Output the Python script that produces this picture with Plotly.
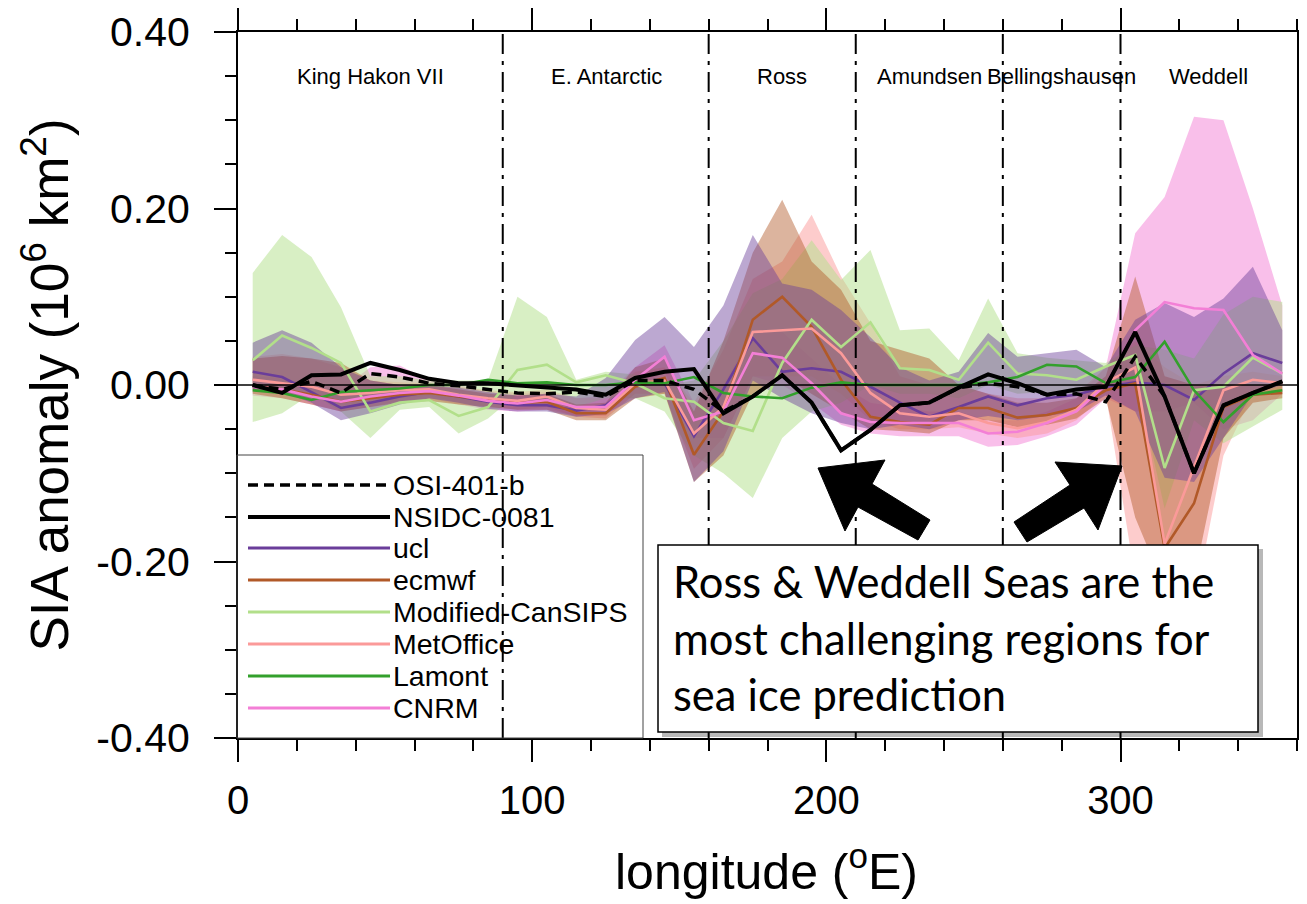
import plotly.graph_objects as go

# ---------------- data ----------------
LON = [5, 15, 25, 35, 45, 55, 65, 75, 85, 95, 105, 115, 125, 135, 145, 155, 165, 175,
       185, 195, 205, 215, 225, 235, 245, 255, 265, 275, 285, 295, 305, 315, 325, 335, 345, 355]

OSI = [0.000, -0.005, 0.004, -0.009, 0.013, 0.009, 0.002, -0.001, -0.005, -0.009, -0.010, -0.008,
       -0.013, 0.005, 0.005, -0.005, -0.030, -0.013, 0.011, -0.020, -0.074, -0.051, -0.023, -0.020,
       -0.003, 0.002, -0.002, -0.011, -0.010, -0.019, 0.032, -0.013, -0.100, -0.023, -0.009, 0.004]
NSIDC = [0.000, -0.009, 0.011, 0.012, 0.025, 0.017, 0.007, 0.002, 0.002, 0.000, -0.002, -0.005,
         -0.011, 0.008, 0.015, 0.018, -0.032, -0.013, 0.011, -0.020, -0.074, -0.051, -0.023, -0.020,
         -0.003, 0.012, 0.002, -0.011, -0.005, -0.002, 0.060, -0.013, -0.100, -0.023, -0.009, 0.004]
UCL = [0.015, 0.009, -0.008, -0.026, -0.020, -0.013, -0.008, -0.013, -0.019, -0.023, -0.023, -0.029,
       -0.023, 0.003, 0.002, -0.058, -0.005, 0.053, 0.015, 0.019, 0.015, -0.002, -0.020, -0.036,
       -0.025, -0.013, -0.023, -0.015, -0.011, -0.002, 0.003, 0.000, -0.017, 0.013, 0.036, 0.025]
ECMWF = [-0.001, -0.005, -0.011, -0.019, -0.015, -0.011, -0.009, -0.013, -0.017, -0.020, -0.019, -0.032,
         -0.032, -0.002, 0.008, -0.079, -0.030, 0.074, 0.100, 0.066, 0.006, -0.036, -0.042, -0.045,
         -0.026, -0.026, -0.037, -0.034, -0.026, -0.006, 0.002, -0.185, -0.134, -0.025, -0.011, -0.009]
CANSIPS = [0.028, 0.056, 0.042, 0.025, -0.030, -0.020, -0.017, -0.035, -0.025, 0.017, 0.023, 0.003,
           0.011, 0.002, -0.015, -0.019, -0.043, -0.052, 0.025, 0.074, 0.043, 0.071, 0.019, 0.017,
           0.006, 0.048, 0.013, 0.011, 0.006, 0.021, 0.034, -0.094, -0.006, -0.002, 0.031, 0.013]
METOFFICE = [0.006, 0.002, -0.002, -0.011, -0.009, -0.006, -0.005, -0.011, -0.015, -0.018, -0.013, -0.026,
             -0.028, 0.002, 0.005, -0.055, -0.025, 0.060, 0.062, 0.064, 0.036, -0.009, -0.032, -0.036,
             -0.032, -0.043, -0.049, -0.042, -0.028, 0.003, 0.020, -0.180, -0.093, -0.006, 0.006, 0.002]
LAMONT = [-0.006, -0.009, -0.017, -0.008, -0.006, -0.004, 0.000, 0.000, 0.006, 0.002, 0.003, 0.000,
          0.000, 0.003, 0.002, 0.009, -0.009, -0.013, -0.015, -0.003, 0.003, 0.000, 0.000, 0.000,
          0.000, 0.003, 0.009, 0.023, 0.021, 0.002, 0.009, 0.049, -0.006, -0.042, -0.011, -0.006]
CNRM = [-0.002, -0.005, -0.013, -0.019, -0.013, -0.009, -0.007, -0.012, -0.018, -0.021, -0.017, -0.025,
        -0.025, 0.006, 0.032, -0.040, -0.030, 0.036, 0.031, 0.002, -0.032, -0.042, -0.043, -0.043,
        -0.043, -0.055, -0.053, -0.043, -0.030, 0.000, 0.062, 0.094, 0.087, 0.085, 0.034, 0.013]

# ensemble spread (upper / lower)
UCL_HI = [0.048, 0.062, 0.048, 0.020, 0.005, 0.000, 0.000, -0.003, -0.008, -0.012, -0.010, -0.013,
          0.008, 0.051, 0.077, 0.043, 0.090, 0.170, 0.115, 0.108, 0.085, 0.054, 0.020, 0.005,
          0.015, 0.059, 0.032, 0.036, 0.040, 0.020, 0.074, 0.093, 0.077, 0.098, 0.134, 0.062]
UCL_LO = [-0.005, -0.008, -0.020, -0.040, -0.032, -0.022, -0.015, -0.020, -0.027, -0.030, -0.030, -0.036,
          -0.033, -0.015, -0.008, -0.110, -0.075, 0.005, -0.015, -0.032, -0.043, -0.050, -0.045, -0.050,
          -0.040, -0.035, -0.040, -0.035, -0.030, -0.012, -0.030, -0.105, -0.110, -0.060, -0.010, 0.000]
ECMWF_HI = [0.030, 0.033, 0.030, 0.025, 0.005, 0.000, 0.000, -0.005, -0.010, -0.012, -0.010, -0.022,
            -0.020, 0.020, 0.030, -0.030, 0.050, 0.150, 0.210, 0.140, 0.108, 0.050, 0.040, 0.030,
            0.000, -0.010, -0.020, -0.020, -0.015, 0.010, 0.123, 0.010, 0.000, 0.000, 0.000, 0.000]
ECMWF_LO = [-0.010, -0.015, -0.022, -0.030, -0.025, -0.020, -0.018, -0.022, -0.025, -0.028, -0.028, -0.040,
            -0.040, -0.015, -0.010, -0.110, -0.080, -0.010, 0.010, -0.010, -0.030, -0.050, -0.052, -0.055,
            -0.040, -0.040, -0.048, -0.045, -0.038, -0.015, -0.150, -0.230, -0.220, -0.060, -0.020, -0.015]
CANSIPS_HI = [0.127, 0.170, 0.145, 0.088, 0.010, 0.010, 0.005, 0.005, 0.005, 0.100, 0.077, 0.006,
              0.015, 0.012, 0.000, 0.005, 0.050, 0.104, 0.120, 0.164, 0.119, 0.153, 0.062, 0.064,
              0.028, 0.098, 0.036, 0.031, 0.028, 0.025, 0.045, 0.040, 0.030, 0.080, 0.100, 0.094]
CANSIPS_LO = [-0.042, -0.032, -0.010, -0.030, -0.060, -0.028, -0.025, -0.055, -0.038, -0.010, -0.020, -0.025,
              -0.015, -0.015, -0.030, -0.080, -0.100, -0.128, -0.060, -0.030, -0.020, 0.000, -0.010, -0.010,
              -0.015, 0.000, -0.010, -0.008, -0.010, 0.000, 0.010, -0.140, -0.040, -0.066, -0.047, -0.028]
METOFFICE_HI = [0.032, 0.035, 0.030, 0.020, 0.005, 0.003, 0.002, -0.002, -0.006, -0.008, -0.005, -0.015,
                -0.015, 0.015, 0.020, -0.020, 0.040, 0.120, 0.140, 0.193, 0.123, 0.070, 0.010, 0.000,
                0.000, -0.010, -0.015, -0.015, -0.010, 0.020, 0.050, 0.020, 0.000, 0.010, 0.015, 0.010]
METOFFICE_LO = [-0.005, -0.008, -0.012, -0.022, -0.020, -0.015, -0.012, -0.020, -0.024, -0.028, -0.025, -0.036,
                -0.038, -0.010, -0.010, -0.095, -0.060, 0.010, 0.010, 0.010, -0.010, -0.040, -0.050, -0.050,
                -0.048, -0.055, -0.060, -0.055, -0.040, -0.010, -0.220, -0.270, -0.250, -0.080, -0.010, -0.008]
CNRM_HI = [0.010, 0.008, 0.000, -0.005, 0.020, 0.022, 0.005, 0.000, -0.008, -0.010, -0.008, -0.015,
           -0.012, 0.020, 0.045, -0.020, 0.000, 0.060, 0.060, 0.030, 0.000, -0.020, -0.025, -0.030,
           -0.030, -0.040, -0.040, -0.030, -0.015, 0.020, 0.172, 0.213, 0.304, 0.300, 0.200, 0.090]
CNRM_LO = [-0.012, -0.015, -0.022, -0.030, -0.025, -0.018, -0.015, -0.022, -0.028, -0.030, -0.028, -0.035,
           -0.035, -0.005, 0.015, -0.060, -0.060, 0.010, 0.000, -0.020, -0.045, -0.055, -0.058, -0.058,
           -0.058, -0.070, -0.068, -0.058, -0.045, -0.015, -0.030, -0.030, -0.020, -0.050, -0.040, -0.010]

REGION_BOUNDS = [90, 160, 210, 260, 300]
REGION_NAMES = ["King Hakon VII", "E. Antarctic", "Ross", "Amundsen", "Bellingshausen", "Weddell"]
REGION_LABEL_X = [45.2, 125.1, 184.9, 235.2, 280.1, 330.0]

Y_TICKS = [-0.4, -0.2, 0.0, 0.2, 0.4]
Y_TICKTEXT = ["-0.40", "-0.20", "0.00", "0.20", "0.40"]
X_TICKS = [0, 100, 200, 300]

# ---------------- styling ----------------
FONT = "Liberation Sans, Arial, sans-serif"
COL = {
    "ucl": "#6a3d9a",
    "ecmwf": "#b15928",
    "Modified-CanSIPS": "#b2df8a",
    "MetOffice": "#fb9a99",
    "Lamont": "#33a02c",
    "CNRM": "#f37fd6",
}


def rgba(hexc, a):
    h = hexc.lstrip("#")
    return "rgba(%d,%d,%d,%.2f)" % (int(h[0:2], 16), int(h[2:4], 16), int(h[4:6], 16), a)


# the page body has an 8px margin, so the figure starts at (8, 8) on screen
OFF = 8
FIG_W, FIG_H = 1307 - OFF, 904 - OFF
# plot area in screen pixels
L, R, T, B = 238, 1297, 32, 738


def px(xp):
    return (xp - L) / (R - L)


def py(yp):
    return (B - yp) / (B - T)


fig = go.Figure()

bands = [
    ("CNRM", CNRM_HI, CNRM_LO, 0.50),
    ("MetOffice", METOFFICE_HI, METOFFICE_LO, 0.50),
    ("Modified-CanSIPS", CANSIPS_HI, CANSIPS_LO, 0.50),
    ("ecmwf", ECMWF_HI, ECMWF_LO, 0.45),
    ("ucl", UCL_HI, UCL_LO, 0.45),
]
for name, hi, lo, a in bands:
    fig.add_trace(go.Scatter(
        x=LON + LON[::-1], y=hi + lo[::-1], fill="toself",
        fillcolor=rgba(COL[name], a), line=dict(width=0), mode="lines",
        hoverinfo="skip", showlegend=False))

model_lines = [
    ("ucl", UCL), ("ecmwf", ECMWF), ("Modified-CanSIPS", CANSIPS),
    ("MetOffice", METOFFICE), ("Lamont", LAMONT), ("CNRM", CNRM),
]
for name, vals in model_lines:
    fig.add_trace(go.Scatter(x=LON, y=vals, mode="lines", name=name,
                             line=dict(color=COL[name], width=2.6), showlegend=False))

fig.add_trace(go.Scatter(x=LON, y=OSI, mode="lines", name="OSI-401-b",
                         line=dict(color="black", width=3.5, dash="10px,6px"), showlegend=False))
fig.add_trace(go.Scatter(x=LON, y=NSIDC, mode="lines", name="NSIDC-0081",
                         line=dict(color="black", width=4), showlegend=False))

shapes = []
# zero line
shapes.append(dict(type="line", xref="paper", yref="y", x0=0, x1=1, y0=0, y1=0,
                   line=dict(color="black", width=1.5), layer="above"))
# region boundaries
for xb in REGION_BOUNDS:
    shapes.append(dict(type="line", xref="x", yref="paper", x0=xb, x1=xb, y0=0, y1=1,
                       line=dict(color="black", width=2, dash="20px,7px,4px,7px"), layer="above"))

# legend box
shapes.append(dict(type="rect", xref="paper", yref="paper", x0=px(237), x1=px(643),
                   y0=py(738), y1=py(455), line=dict(color="#444", width=1), layer="above"))
legend_items = [
    ("OSI-401-b", "black", 3.5, "10px,6px"),
    ("NSIDC-0081", "black", 4, "solid"),
    ("ucl", COL["ucl"], 3, "solid"),
    ("ecmwf", COL["ecmwf"], 3, "solid"),
    ("Modified-CanSIPS", COL["Modified-CanSIPS"], 3, "solid"),
    ("MetOffice", COL["MetOffice"], 3, "solid"),
    ("Lamont", COL["Lamont"], 3, "solid"),
    ("CNRM", COL["CNRM"], 3, "solid"),
]
leg_y = [485, 517, 548, 580, 612, 644, 676, 708]
annotations = []
for (lab, c, w, d), yy in zip(legend_items, leg_y):
    shapes.append(dict(type="line", xref="paper", yref="paper", x0=px(248), x1=px(390),
                       y0=py(yy), y1=py(yy), line=dict(color=c, width=w, dash=d), layer="above"))
    annotations.append(dict(xref="paper", yref="paper", x=px(391), y=py(yy), text=lab,
                            showarrow=False, xanchor="left", yanchor="middle",
                            font=dict(family=FONT, size=28.5, color="black")))

# arrows (black polygons)
arrow1 = [(818, 468), (885, 460), (872, 484), (930, 520), (918, 540), (858, 507), (845, 531)]
arrow2 = [(1122, 466), (1098, 530), (1084, 508), (1027, 542), (1014, 522), (1070, 485), (1055, 462)]
for poly in (arrow1, arrow2):
    path = "M " + " L ".join("%.5f,%.5f" % (px(a), py(b)) for a, b in poly) + " Z"
    shapes.append(dict(type="path", xref="paper", yref="paper", path=path,
                       fillcolor="black", line=dict(color="black", width=1), layer="above"))

# text box with shadow
shapes.append(dict(type="rect", xref="paper", yref="paper", x0=px(662), x1=px(1263),
                   y0=py(737), y1=py(549), fillcolor="rgba(0,0,0,0.28)",
                   line=dict(width=0), layer="above"))
shapes.append(dict(type="rect", xref="paper", yref="paper", x0=px(658), x1=px(1258),
                   y0=py(732), y1=py(545), fillcolor="white",
                   line=dict(color="black", width=1.5), layer="above"))
annotations.append(dict(xref="paper", yref="paper", x=px(671), y=py(553),
                        text="Ross & Weddell Seas are the<br>most challenging regions for<br>sea ice prediction",
                        showarrow=False, xanchor="left", yanchor="top", align="left",
                        font=dict(family="Lato, Carlito, sans-serif", size=43.5, color="black")))

# region labels
for name, xl in zip(REGION_NAMES, REGION_LABEL_X):
    annotations.append(dict(xref="x", yref="paper", x=xl, y=py(77), text=name,
                            showarrow=False, xanchor="center", yanchor="middle",
                            font=dict(family=FONT, size=22, color="black")))

# x axis title (placed as annotation so it can sit lower than plotly's margin limit)
annotations.append(dict(xref="paper", yref="paper", x=px(766), y=py(868),
                        text="longitude (<sup>o</sup>E)", showarrow=False,
                        xanchor="center", yanchor="middle",
                        font=dict(family=FONT, size=50, color="black")))

fig.update_layout(
    width=FIG_W, height=FIG_H,
    margin=dict(l=L - OFF, r=FIG_W - (R - OFF), t=T - OFF, b=FIG_H - (B - OFF)),
    plot_bgcolor="white", paper_bgcolor="white",
    showlegend=False,
    shapes=shapes, annotations=annotations,
    font=dict(family=FONT, color="black"),
)
fig.update_xaxes(
    range=[0, 360], tickvals=X_TICKS, ticks="outside", ticklen=22, tickwidth=2,
    tickcolor="black", showline=True, linewidth=2, linecolor="black", mirror="allticks",
    showgrid=False, zeroline=False, tickfont=dict(family=FONT, size=40),
    ticklabelstandoff=4, automargin=False,
    minor=dict(dtick=20, tick0=0, ticks="outside", ticklen=11, tickwidth=1.5, tickcolor="black",
               showgrid=False),
)
fig.update_yaxes(
    range=[-0.4, 0.4], tickvals=Y_TICKS, ticktext=Y_TICKTEXT, ticks="outside", ticklen=22,
    tickwidth=2, tickcolor="black", showline=True, linewidth=2, linecolor="black",
    mirror="allticks", showgrid=False, zeroline=False, tickfont=dict(family=FONT, size=41),
    ticklabelstandoff=16, automargin=False,
    minor=dict(dtick=0.05, tick0=0, ticks="outside", ticklen=11, tickwidth=1.5, tickcolor="black",
               showgrid=False),
    title=dict(text="SIA anomaly (10<sup>6</sup> km<sup>2</sup>)", font=dict(family=FONT, size=53),
               standoff=11),
)

fig.write_html("out.html")
